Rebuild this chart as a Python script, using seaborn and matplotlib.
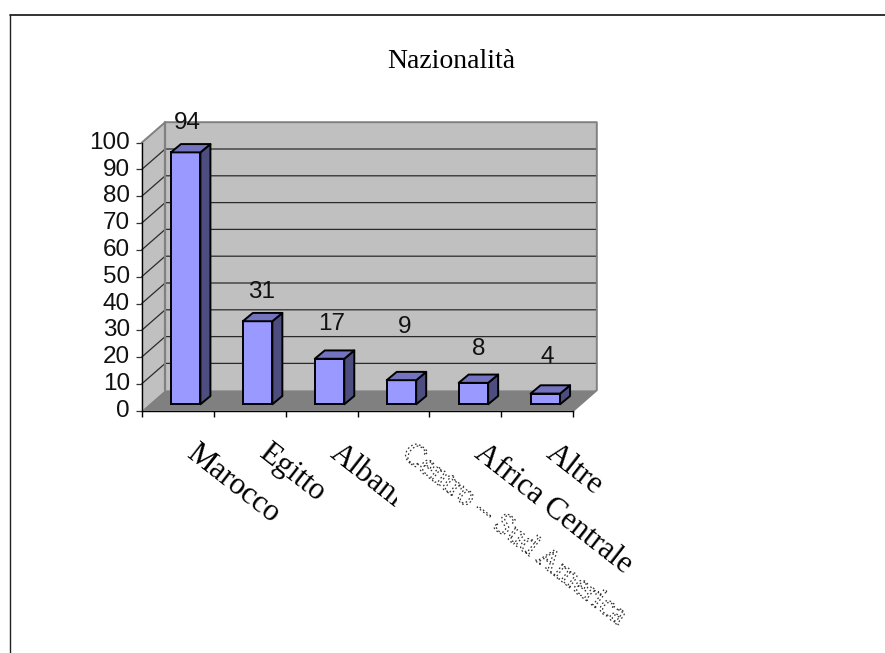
import numpy as np
import matplotlib
matplotlib.use("Agg")
import matplotlib.pyplot as plt
from matplotlib.lines import Line2D
from matplotlib.patches import Polygon
from matplotlib.patheffects import AbstractPathEffect
from matplotlib.transforms import Affine2D, Bbox
import seaborn as sns

title = "Nazionalità"
categories = ["Marocco", "Egitto", "Albania", "Centro – Sud America", "Africa Centrale", "Altre"]
values = [94, 31, 17, 9, 8, 4]
y_ticks = list(range(0, 101, 10))

sns.set_theme(style="white")
plt.rcParams["font.family"] = ["Liberation Sans", "DejaVu Sans"]

W, H = 885, 653
fig = plt.figure(figsize=(W / 100, H / 100), dpi=100, facecolor="white")
ax_l, ax_r, ax_b, ax_t = 141.7, 573.3, 410.7, 142.7
ax = fig.add_axes([ax_l / W, 1 - ax_b / H, (ax_r - ax_l) / W, (ax_b - ax_t) / H])
ax.patch.set_alpha(0)

sns.barplot(x=categories, y=values, color="#9999FF", saturation=1, width=0.41,
            edgecolor="black", linewidth=1.4, ax=ax, zorder=5)
bars = list(ax.patches)
ax.set_xlim(-0.5, 5.5)
ax.set_ylim(0, 100)

ux = (ax_r - ax_l) / 6      # px per category
uy = (ax_b - ax_t) / 100    # px per value unit


def off(px_x, px_y):
    """Pixel offset converted to data units."""
    return px_x / ux, px_y / uy


WALL = off(23.5, 20.5)
BAR_SHIFT = off(8.0, 6.4)
BAR_DEPTH = off(10.0, 8.3)
x0, x1 = -0.5, 5.5


def poly(pts, fc, z, ec="none", lw=0):
    ax.add_patch(Polygon(pts, closed=True, facecolor=fc, edgecolor=ec, linewidth=lw,
                         zorder=z, clip_on=False, joinstyle="round"))


wx, wy = WALL
vmax = y_ticks[-1]
# back wall, side wall, floor
poly([(x0 + wx, wy), (x1 + wx, wy), (x1 + wx, vmax + wy), (x0 + wx, vmax + wy)], "#C0C0C0", 1)
poly([(x0, 0), (x0 + wx, wy), (x0 + wx, vmax + wy), (x0, vmax)], "#C0C0C0", 1)
poly([(x0, 0), (x1, 0), (x1 + wx, wy), (x0 + wx, wy)], "#808080", 1.2)

# grid lines, running up the side wall and along the back wall
for v in y_ticks[1:-1]:
    ax.plot([x0, x0 + wx, x1 + wx], [v, v + wy, v + wy], color="#2a2a2a", lw=0.9,
            zorder=1.5, clip_on=False, solid_joinstyle="miter")
# wall outline
ax.plot([x0, x0 + wx, x1 + wx, x1 + wx, x1], [vmax, vmax + wy, vmax + wy, wy, 0],
        color="#808080", lw=1.4, zorder=1.6, clip_on=False)
ax.plot([x0 + wx, x0 + wx], [wy, vmax + wy], color="#808080", lw=1.6, zorder=1.6, clip_on=False)

# bars: front faces come from seaborn, moved to the middle of the depth
sx, sy = BAR_SHIFT
dx, dy = BAR_DEPTH
label_dx_px = [1.5, 3.5, 2.5, 3, 5, 1.5]
label_lift_px = [29.5, 29.5, 35, 53.5, 34, 36.5]
for bar, val, ldx, lift in zip(bars, values, label_dx_px, label_lift_px):
    bar.set_x(bar.get_x() + sx)
    bar.set_y(bar.get_y() + sy)
    bar.set_clip_on(False)
    l, b, w, h = bar.get_x(), bar.get_y(), bar.get_width(), bar.get_height()
    r, t = l + w, b + h
    poly([(r, b), (r + dx, b + dy), (r + dx, t + dy), (r, t)], "#4D4D80", 5, "black", 1.4)
    poly([(l, t), (r, t), (r + dx, t + dy), (l + dx, t + dy)], "#7373BF", 5, "black", 1.4)
    ax.annotate(str(val), xy=(l + w / 2, t), xytext=(ldx, lift), textcoords="offset pixels",
                ha="center", va="center", fontsize=17.5, color="#111111", zorder=6,
                annotation_clip=False)

# axes
for s in ("top", "right"):
    ax.spines[s].set_visible(False)
for s in ("left", "bottom"):
    ax.spines[s].set_visible(True)
    ax.spines[s].set_color("black")
    ax.spines[s].set_linewidth(1.0)
    ax.spines[s].set_zorder(3)

ax.set_yticks(y_ticks, labels=[str(v) for v in y_ticks])
ax.tick_params(axis="y", left=True, length=4.3, width=0.9, color="#333333", pad=4.1,
               labelsize=17.5, labelcolor="#111111")
for lab in ax.get_yticklabels():
    lab.set_transform(lab.get_transform() + Affine2D().translate(0, 2.5))

ax.set_xticks(np.arange(x0, x1 + 1), labels=[])
# the slanted labels start a little to the right of each category centre
ax.set_xticks(np.arange(len(categories)) + 21 / ux, labels=categories, minor=True)
ax.tick_params(axis="x", which="major", length=4.5, width=1.0, color="black", bottom=True)
ax.tick_params(axis="x", which="minor", length=0, pad=20, bottom=False)


class DottedOutline(AbstractPathEffect):
    """Broken, faint outline like the badly rasterised label in the original."""

    def draw_path(self, renderer, gc, tpath, affine, rgbFace=None):
        g = renderer.new_gc()
        g.copy_properties(gc)
        g.set_foreground("#333333")
        g.set_linewidth(0.9)
        g.set_dashes(0, (1.2, 1.8))
        renderer.draw_path(g, tpath, affine, None)
        g.restore()


tick_labels = ax.get_xticklabels(minor=True)
for lab in tick_labels:
    lab.set_rotation(-38)
    lab.set_rotation_mode("anchor")
    lab.set_ha("left")
    lab.set_va("top")
    lab.set_fontfamily(["Liberation Serif", "DejaVu Serif"])
    lab.set_fontsize(22.3)
    lab.set_color("black")
tick_labels[2].set_clip_box(Bbox([[0, 0], [397, H]]))
tick_labels[2].set_clip_on(True)
tick_labels[3].set_path_effects([DottedOutline()])

ax.set_xlabel("")
ax.set_ylabel("")

fig.text(451 / W, 1 - 62 / H, title, ha="center", va="center", fontsize=20,
         family=["Liberation Serif", "DejaVu Serif"], color="black")

# outer frame: left and top edges only are inside the picture
fx, fy = 9.5 / W, 1 - 14.7 / H
fig.add_artist(Line2D([fx, fx], [0, fy], color="#222222", lw=1.0))
fig.add_artist(Line2D([fx, 1], [fy, fy], color="#222222", lw=1.3))

fig.savefig("out.png", dpi=100, facecolor="white")
